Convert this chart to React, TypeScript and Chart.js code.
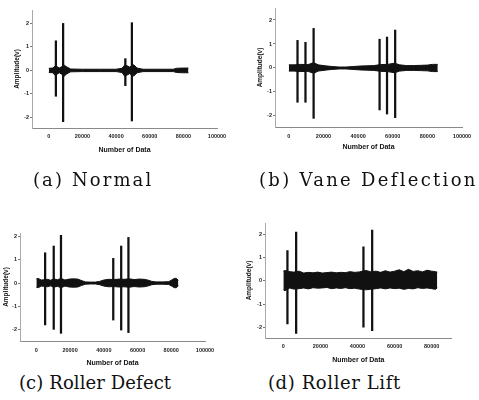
import React, { useEffect, useRef } from "react";
import { Chart, registerables } from "chart.js";

Chart.register(...registerables);

// ---------------- data ----------------
const xTicksWide = [0, 20000, 40000, 60000, 80000, 100000];
const xTicksShort = [0, 20000, 40000, 60000, 80000];
const yTicks = [-2, -1, 0, 1, 2];

// (a) Normal
const aBandX = [0, 2500, 3800, 5000, 6200, 7600, 9200, 10800, 13000, 20000, 30000, 40000, 43500, 45000, 46500, 48000, 50500, 52500, 56000, 65000, 74000, 76000, 80000, 83000];
const aBandHi = [0.09, 0.1, 0.2, 0.16, 0.1, 0.16, 0.22, 0.14, 0.06, 0.05, 0.05, 0.05, 0.09, 0.22, 0.2, 0.14, 0.24, 0.1, 0.05, 0.05, 0.05, 0.09, 0.1, 0.1];
const aBandLo = [-0.09, -0.1, -0.22, -0.16, -0.1, -0.16, -0.24, -0.14, -0.06, -0.05, -0.05, -0.05, -0.09, -0.24, -0.2, -0.14, -0.24, -0.1, -0.05, -0.05, -0.05, -0.09, -0.1, -0.1];
const aSpikeX = [4200, 8500, 45500, 49400];
const aSpikeHi = [1.26, 2.0, 0.5, 2.03];
const aSpikeLo = [-1.1, -2.18, -0.65, -2.15];

// (b) Vane Deflection
const bBandX = [0, 3000, 6500, 11000, 14300, 17000, 21000, 25000, 29000, 33000, 37000, 41000, 45000, 49000, 53000, 57000, 61000, 64000, 68000, 72000, 76000, 80000, 83000, 86000];
const bBandHi = [0.13, 0.13, 0.15, 0.14, 0.22, 0.13, 0.09, 0.06, 0.04, 0.04, 0.06, 0.08, 0.09, 0.1, 0.14, 0.15, 0.2, 0.13, 0.1, 0.1, 0.11, 0.12, 0.15, 0.15];
const bBandLo = [-0.13, -0.13, -0.15, -0.14, -0.22, -0.13, -0.09, -0.06, -0.04, -0.04, -0.06, -0.08, -0.09, -0.1, -0.14, -0.15, -0.2, -0.13, -0.1, -0.1, -0.11, -0.12, -0.15, -0.15];
const bSpikeX = [5000, 9600, 14300, 52400, 56700, 61400];
const bSpikeHi = [1.15, 1.07, 1.65, 1.2, 1.29, 1.58];
const bSpikeLo = [-1.43, -1.43, -2.1, -1.75, -1.92, -2.07];

// (c) Roller Defect
const cBandX = [0, 1200, 2800, 4500, 6500, 8500, 10300, 12500, 14600, 17000, 19500, 22000, 24500, 27000, 29000, 32000, 35000, 37500, 40000, 43000, 46000, 49000, 52000, 55000, 58000, 61000, 64000, 66500, 68500, 71000, 75000, 78500, 80500, 81800, 83000, 84200];
const cBandHi = [0.18, 0.2, 0.13, 0.14, 0.16, 0.12, 0.18, 0.14, 0.2, 0.13, 0.17, 0.18, 0.17, 0.1, 0.05, 0.04, 0.04, 0.07, 0.13, 0.16, 0.15, 0.17, 0.16, 0.18, 0.15, 0.17, 0.16, 0.12, 0.07, 0.05, 0.05, 0.06, 0.14, 0.2, 0.2, 0.12];
const cBandLo = [-0.18, -0.2, -0.13, -0.14, -0.16, -0.12, -0.18, -0.14, -0.2, -0.13, -0.17, -0.18, -0.17, -0.1, -0.05, -0.04, -0.04, -0.07, -0.13, -0.16, -0.15, -0.17, -0.16, -0.18, -0.15, -0.17, -0.16, -0.12, -0.07, -0.05, -0.05, -0.06, -0.14, -0.2, -0.2, -0.12];
const cSpikeX = [5200, 10300, 14600, 45600, 50300, 54600];
const cSpikeHi = [1.3, 1.59, 2.05, 1.06, 1.59, 1.96];
const cSpikeLo = [-1.8, -1.99, -2.16, -1.59, -2.02, -2.13];

// (d) Roller Lift
const dBandX = [0, 800, 3500, 5500, 8500, 11000, 13500, 16000, 18500, 21000, 23500, 26000, 28500, 31000, 33500, 36000, 38500, 41000, 44500, 47000, 50000, 52500, 55000, 57500, 60000, 62500, 65000, 67500, 70000, 72500, 75000, 77500, 80000, 82000, 83000];
const dBandHi = [0.42, 0.45, 0.4, 0.38, 0.42, 0.34, 0.37, 0.35, 0.38, 0.34, 0.36, 0.38, 0.35, 0.37, 0.36, 0.4, 0.37, 0.39, 0.45, 0.4, 0.42, 0.37, 0.44, 0.38, 0.42, 0.48, 0.4, 0.5, 0.41, 0.44, 0.39, 0.46, 0.42, 0.4, 0.38];
const dBandLo = [-0.38, -0.42, -0.3, -0.35, -0.33, -0.3, -0.34, -0.29, -0.31, -0.3, -0.28, -0.33, -0.3, -0.32, -0.29, -0.33, -0.31, -0.35, -0.38, -0.36, -0.33, -0.3, -0.34, -0.3, -0.33, -0.31, -0.36, -0.32, -0.34, -0.29, -0.32, -0.3, -0.33, -0.36, -0.3];
const dSpikeX = [2200, 6900, 43200, 47900];
const dSpikeHi = [1.3, 2.1, 1.47, 2.19];
const dSpikeLo = [-1.85, -2.25, -1.98, -2.13];

const captions = ["(a) Normal", "(b) Vane Deflection", "(c) Roller Defect", "(d) Roller Lift"];
const xTitle = "Number of Data";
const yTitle = "Amplitude(v)";

// ---------------- layout / style ----------------
type Panel = {
  bandX: number[]; bandHi: number[]; bandLo: number[];
  spikeX: number[]; spikeHi: number[]; spikeLo: number[];
  xTicks: number[];
  left: number; top: number; w: number; h: number;
  padTop: number; padRight: number; yW: number; xH: number;
  xMin: number; xMax: number; yMin: number; yMax: number;
  xTitlePad: number; yTitlePad: number; tickPad: number;
};

const panels: Panel[] = [
  { bandX: aBandX, bandHi: aBandHi, bandLo: aBandLo, spikeX: aSpikeX, spikeHi: aSpikeHi, spikeLo: aSpikeLo, xTicks: xTicksWide,
    left: 0, top: 0, w: 240, h: 170, padTop: 10, padRight: 23, yW: 32, xH: 42,
    xMin: -10000, xMax: 100000, yMin: -2.45, yMax: 2.57, xTitlePad: 15.8, yTitlePad: 13, tickPad: 5 },
  { bandX: bBandX, bandHi: bBandHi, bandLo: bBandLo, spikeX: bSpikeX, spikeHi: bSpikeHi, spikeLo: bSpikeLo, xTicks: xTicksWide,
    left: 240, top: 0, w: 239, h: 170, padTop: 8, padRight: 17, yW: 35, xH: 43,
    xMin: -8000, xMax: 100000, yMin: -2.46, yMax: 2.5, xTitlePad: 18.8, yTitlePad: 16.8, tickPad: 6 },
  { bandX: cBandX, bandHi: cBandHi, bandLo: cBandLo, spikeX: cSpikeX, spikeHi: cSpikeHi, spikeLo: cSpikeLo, xTicks: xTicksWide,
    left: 0, top: 200, w: 240, h: 170, padTop: 33, padRight: 35, yW: 20, xH: 29,
    xMin: -9700, xMax: 100000, yMin: -2.49, yMax: 2.15, xTitlePad: 3.1, yTitlePad: 2.8, tickPad: 6 },
  { bandX: dBandX, bandHi: dBandHi, bandLo: dBandLo, spikeX: dSpikeX, spikeHi: dSpikeHi, spikeLo: dSpikeLo, xTicks: xTicksShort,
    left: 240, top: 200, w: 239, h: 170, padTop: 23, padRight: 27.3, yW: 25, xH: 32,
    xMin: -9900, xMax: 90800, yMin: -2.45, yMax: 2.49, xTitlePad: 5.8, yTitlePad: 5.4, tickPad: 5.5 },
];

const captionStyles = [
  { left: 33, top: 171, letterSpacing: 2.1 },
  { left: 259, top: 171, letterSpacing: 2.3 },
  { left: 19, top: 374, letterSpacing: 0.1 },
  { left: 268, top: 374, letterSpacing: 0.6 },
];

const INK = "#111";
const tickFont = { family: "'Liberation Sans', Arial, sans-serif", size: 5.5, weight: "bold" as const };
const titleFont = { family: "'Liberation Sans', Arial, sans-serif", size: 7, weight: "bold" as const };
const yTitleFont = { family: "'Liberation Sans', Arial, sans-serif", size: 6.5, weight: "bold" as const };

function makeConfig(p: Panel): any {
  return {
    type: "line",
    data: {
      datasets: [
        {
          type: "line",
          data: p.bandX.map((x, i) => ({ x, y: p.bandHi[i] })),
          borderColor: INK, borderWidth: 1, pointRadius: 0, tension: 0,
          backgroundColor: INK, fill: "+1",
        },
        {
          type: "line",
          data: p.bandX.map((x, i) => ({ x, y: p.bandLo[i] })),
          borderColor: INK, borderWidth: 1, pointRadius: 0, tension: 0, fill: false,
        },
        {
          type: "bar",
          data: p.spikeX.map((x, i) => ({ x, y: [p.spikeLo[i], p.spikeHi[i]] })),
          backgroundColor: INK, borderWidth: 0, barThickness: 1.6, grouped: false,
        },
      ],
    },
    options: {
      animation: false,
      responsive: false,
      maintainAspectRatio: false,
      events: [],
      layout: { padding: { top: p.padTop, right: p.padRight, left: 0, bottom: 0 } },
      plugins: { legend: { display: false }, tooltip: { enabled: false }, title: { display: false } },
      scales: {
        x: {
          type: "linear", min: p.xMin, max: p.xMax, offset: false,
          afterBuildTicks: (s: any) => { s.ticks = p.xTicks.map((v) => ({ value: v })); },
          afterFit: (s: any) => { s.height = p.xH; },
          grid: { display: false, drawTicks: false },
          border: { display: true, color: "#8a8a8a", width: 1, dash: [3, 2] },
          ticks: { padding: p.tickPad, font: tickFont, color: "#222", maxRotation: 0, autoSkip: false, callback: (v: any) => String(v) },
          title: { display: true, text: xTitle, font: titleFont, color: INK, padding: { top: 0, bottom: p.xTitlePad } },
        },
        y: {
          type: "linear", min: p.yMin, max: p.yMax,
          afterBuildTicks: (s: any) => { s.ticks = yTicks.map((v) => ({ value: v })); },
          afterFit: (s: any) => { s.width = p.yW; },
          grid: { drawOnChartArea: false, drawTicks: true, tickLength: 2, color: "#777" },
          border: { display: true, color: "#aaa", width: 1, dash: [3, 3] },
          ticks: { padding: 1, font: tickFont, color: "#222", callback: (v: any) => String(v) },
          title: { display: true, text: yTitle, font: yTitleFont, color: INK, padding: { top: p.yTitlePad, bottom: 0 } },
        },
      },
    },
  };
}

function SignalPanel({ p }: { p: Panel }) {
  const ref = useRef<HTMLCanvasElement | null>(null);
  useEffect(() => {
    if (!ref.current) return;
    const chart = new Chart(ref.current, makeConfig(p));
    return () => chart.destroy();
  }, [p]);
  return (
    <canvas
      ref={ref}
      width={p.w}
      height={p.h}
      style={{ position: "absolute", left: p.left, top: p.top, width: p.w, height: p.h, display: "block" }}
    />
  );
}

export default function App() {
  return (
    <div style={{ position: "absolute", left: 0, top: 0, width: 479, height: 400, background: "#fff", overflow: "hidden" }}>
      {panels.map((p, i) => (
        <SignalPanel key={i} p={p} />
      ))}
      {captions.map((c, i) => (
        <div
          key={c}
          style={{
            position: "absolute",
            left: captionStyles[i].left,
            top: captionStyles[i].top,
            fontFamily: "'DejaVu Serif', serif",
            fontSize: 18,
            lineHeight: "18px",
            letterSpacing: captionStyles[i].letterSpacing,
            whiteSpace: "nowrap",
            color: "#111",
          }}
        >
          {c}
        </div>
      ))}
    </div>
  );
}
